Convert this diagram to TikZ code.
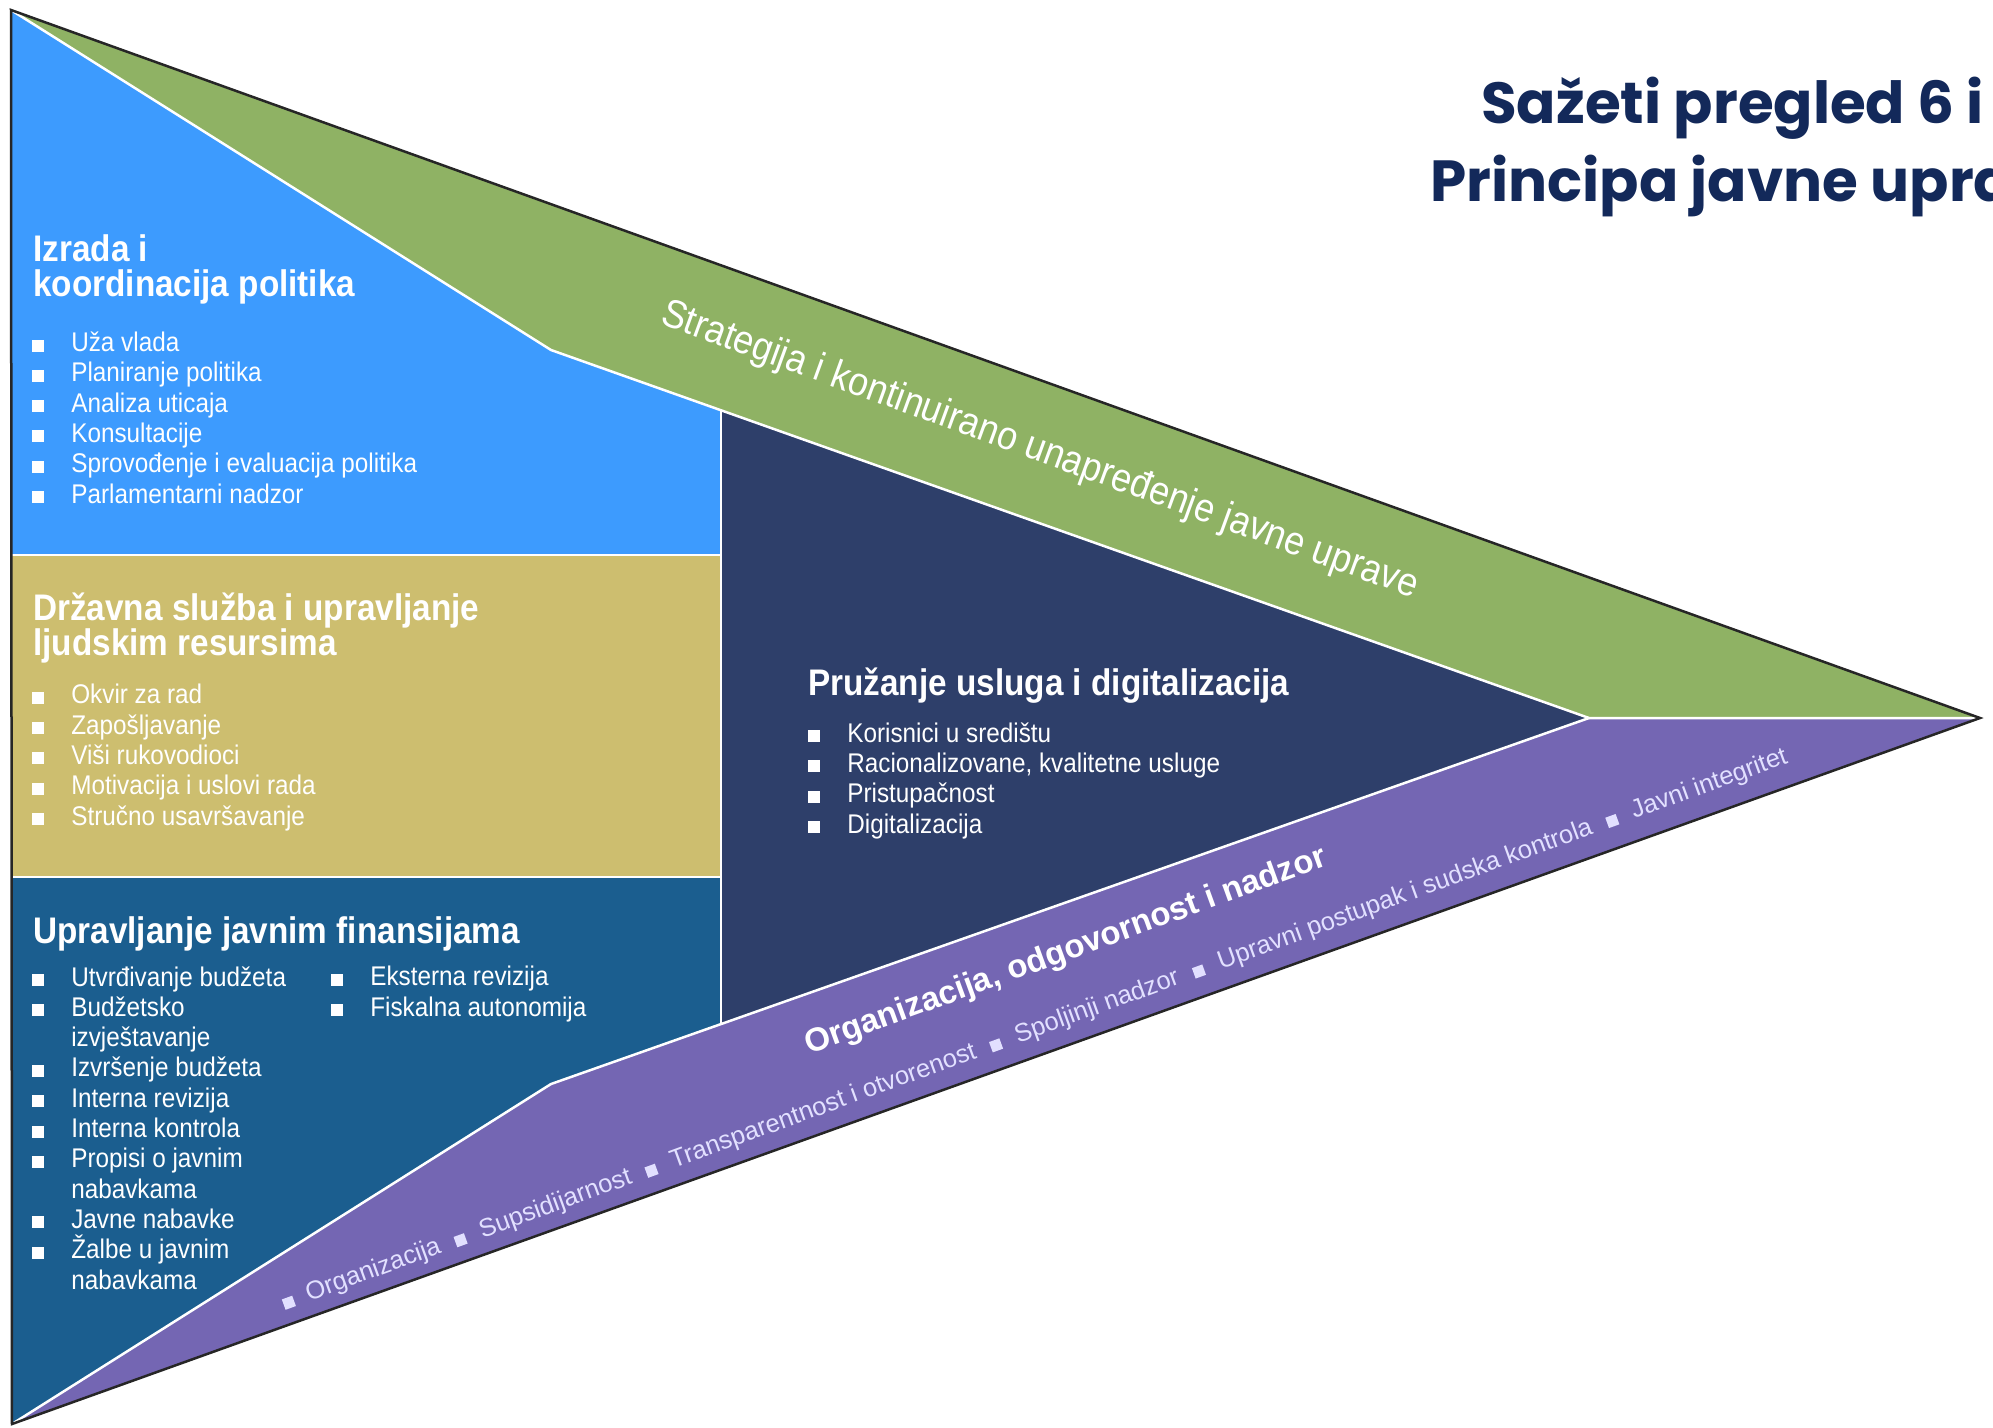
\documentclass[tikz,border=0pt]{standalone}
\usepackage{fontspec}
\setmainfont{Liberation Sans}
\newfontfamily\narrowfont[FakeStretch=0.9]{Liberation Sans}
\newfontfamily\titlefont{Poppins}
\usetikzlibrary{positioning}
\definecolor{izblue}{HTML}{3D9BFE}
\definecolor{izgreen}{HTML}{8FB264}
\definecolor{izgold}{HTML}{CDBE6F}
\definecolor{izteal}{HTML}{1B5E8F}
\definecolor{iznavy}{HTML}{2E3F6A}
\definecolor{izpurple}{HTML}{7466B3}
\definecolor{iztitle}{HTML}{13295A}
\definecolor{izlav}{HTML}{E2E0FF}
\newcommand\bx{\makebox[39pt][l]{\rule{12pt}{12pt}}}
\newcommand\bn{\hspace*{39pt}}
\newcommand\sbx{\hspace{16pt}\rule{11pt}{11pt}\hspace{16pt}}

\begin{document}
\begin{tikzpicture}[x=1pt,y=-1pt,semithick]
  \tikzstyle{head}=[inner sep=0pt,anchor=base west,align=left,text=white,
                    font=\narrowfont\bfseries\fontsize{37}{34.5}\selectfont]
  \tikzstyle{items}=[inner sep=0pt,anchor=base west,align=left,text=white,
                     font=\narrowfont\fontsize{27}{30.3}\selectfont]
  \tikzstyle{band}=[inner sep=0pt,text=white]
  \tikzstyle{sep}=[white,line width=2.5pt]

  \useasboundingbox (0,0) rectangle (1993,1427);

  \coordinate (top) at (11,10);
  \coordinate (tip) at (1980,718);
  \coordinate (bot) at (12,1424);
  \coordinate (gk)  at (551,350);
  \coordinate (pk)  at (551,1084);
  \coordinate (nv)  at (1589,718);
  \coordinate (nt)  at (721,410);
  \coordinate (nb)  at (721,1024);
  \coordinate (l1)  at (11,555);
  \coordinate (m1)  at (721,555);
  \coordinate (l2)  at (11,877);
  \coordinate (m2)  at (721,877);

  \fill[izgreen]  (top) -- (tip) -- (nv) -- (gk) -- cycle;
  \fill[izblue]   (top) -- (gk) -- (nt) -- (m1) -- (l1) -- cycle;
  \fill[izgold]   (l1) -- (m1) -- (m2) -- (l2) -- cycle;
  \fill[izteal]   (l2) -- (m2) -- (nb) -- (pk) -- (bot) -- cycle;
  \fill[iznavy]   (nt) -- (nv) -- (nb) -- cycle;
  \fill[izpurple] (bot) -- (pk) -- (nv) -- (tip) -- cycle;

  \draw[sep] (top) -- (gk) -- (nv) -- (tip);
  \draw[sep] (bot) -- (pk) -- (nv);
  \draw[sep] (nt) -- (nb);
  \draw[sep] (l1) -- (m1);
  \draw[sep] (l2) -- (m2);
  \draw[black!85,line width=2.5pt,line join=miter] (top) -- (tip) -- (bot) -- cycle;

  % Izrada i koordinacija politika (base = zadnji red)
  \node[head] (h1) at (33,296) {Izrada i\\koordinacija politika};
  \node[items] (i1) at (32,503) {\bx U\v{z}a vlada\\\bx Planiranje politika\\\bx Analiza uticaja\\
    \bx Konsultacije\\\bx Sprovo\dj enje i evaluacija politika\\\bx Parlamentarni nadzor};

  % Drzavna sluzba
  \node[head] (h2) at (33,655) {Dr\v{z}avna slu\v{z}ba i upravljanje\\ljudskim resursima};
  \node[items] (i2) at (32,825) {\bx Okvir za rad\\\bx Zapo\v{s}ljavanje\\\bx Vi\v{s}i rukovodioci\\
    \bx Motivacija i uslovi rada\\\bx Stru\v{c}no usavr\v{s}avanje};

  % javne finansije
  \node[head] (h3) at (33,943) {Upravljanje javnim finansijama};
  \node[items] (i3) at (32,1289) {\bx Utvr\dj ivanje bud\v{z}eta\\\bx Bud\v{z}etsko\\\bn izvje\v{s}tavanje\\
    \bx Izvr\v{s}enje bud\v{z}eta\\\bx Interna revizija\\\bx Interna kontrola\\\bx Propisi o javnim\\
    \bn nabavkama\\\bx Javne nabavke\\\bx \v{Z}albe u javnim\\\bn nabavkama};
  \node[items] (i4) at (331,1016) {\bx Eksterna revizija\\\bx Fiskalna autonomija};

  % usluge
  \node[head] (h4) at (808,695) {Pru\v{z}anje usluga i digitalizacija};
  \node[items] (i5) at (808,833) {\bx Korisnici u sredi\v{s}tu\\\bx Racionalizovane, kvalitetne usluge\\
    \bx Pristupa\v{c}nost\\\bx Digitalizacija};

  % trake
  \node[band,rotate=-20,font=\narrowfont\fontsize{40}{40}\selectfont] (s) at (1040,451)
    {Strategija i kontinuirano unapre\dj enje javne uprave};
  \node[band,rotate=20,font=\bfseries\fontsize{33}{33}\selectfont] (o) at (1066,952)
    {Organizacija, odgovornost i nadzor};
  \node[band,rotate=20,text=izlav,font=\fontsize{25.5}{25.5}\selectfont] (ol) at (1035,1030)
    {\rule{11pt}{11pt}\hspace{14pt}Organizacija\sbx Supsidijarnost\sbx Transparentnost i otvorenost\sbx
     Spoljinji nadzor\sbx Upravni postupak i sudska kontrola\sbx Javni integritet};

  % naslov
  \node[anchor=base west,inner sep=0pt,text=iztitle,font=\titlefont\bfseries\fontsize{58}{58}\selectfont]
    (t1) at (1481,123) {Sa\v{z}eti pregled 6 i};
  \node[anchor=base west,inner sep=0pt,text=iztitle,font=\titlefont\bfseries\fontsize{58}{58}\selectfont]
    (t2) at (1430,201) {Principa javne upra};
\end{tikzpicture}
\end{document}
